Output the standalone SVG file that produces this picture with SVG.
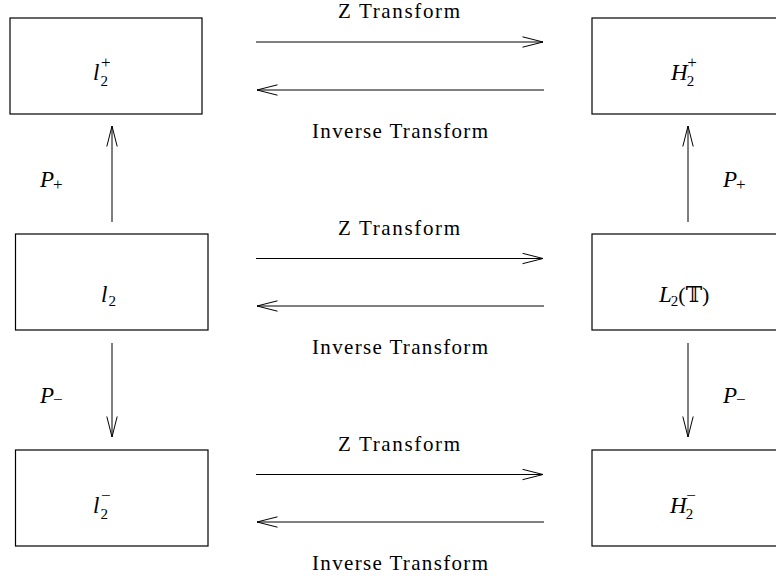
<svg xmlns="http://www.w3.org/2000/svg" width="776" height="581" viewBox="0 0 776 581">
<style>
.box{fill:#fff;stroke:#000;stroke-width:1.2}
.con{stroke:#000;stroke-width:1;fill:none}
text{font-family:"Liberation Serif","DejaVu Serif",serif;fill:#000}
.lbl{font-size:21px}
.m{font-style:italic;font-size:23px}
.s{font-style:normal;font-size:15px}
.o{font-style:normal;font-size:17px}
.r{font-style:normal;font-size:22px}
</style>
<defs>
<marker id="ah" markerWidth="24" markerHeight="14" refX="21" refY="6" orient="auto" markerUnits="userSpaceOnUse">
<path d="M0.5,0.8 L21,6 L0.5,11.2" fill="none" stroke="#000" stroke-width="1"/>
</marker>
</defs>
<rect width="776" height="581" fill="#fff"/>

<g id="l2plus">
<rect class="box" x="10" y="18" width="192" height="96"/>
<text class="m" x="93" y="80">l<tspan class="s" dx="1" dy="6">2</tspan><tspan class="o" dx="-7" dy="-18">+</tspan></text>
</g>
<g id="H2plus">
<rect class="box" x="592" y="18" width="200" height="96"/>
<text class="m" x="671" y="80">H<tspan class="s" dx="-1" dy="6">2</tspan><tspan class="o" dx="-7" dy="-18">+</tspan></text>
</g>
<g id="l2">
<rect class="box" x="15.5" y="234" width="192.5" height="96"/>
<text class="m" x="101" y="302">l<tspan class="s" dx="1" dy="4">2</tspan></text>
</g>
<g id="L2T">
<rect class="box" x="592" y="234" width="200" height="96"/>
<text class="m" x="659" y="302">L<tspan class="s" dx="-1" dy="4">2</tspan><tspan class="r" dy="-4">(</tspan><tspan class="r" font-family="DejaVu Serif, DejaVu Sans, serif" font-size="19">𝕋</tspan><tspan class="r">)</tspan></text>
</g>
<g id="l2minus">
<rect class="box" x="15.5" y="450" width="192.5" height="96"/>
<text class="m" x="93" y="513">l<tspan class="s" dx="1" dy="6">2</tspan><tspan class="o" dx="-7" dy="-18">−</tspan></text>
</g>
<g id="H2minus">
<rect class="box" x="592" y="450" width="200" height="96"/>
<text class="m" x="670" y="513">H<tspan class="s" dx="-1" dy="6">2</tspan><tspan class="o" dx="-7" dy="-18">−</tspan></text>
</g>

<g id="connectors">
<line class="con" x1="256" y1="42" x2="543" y2="42" marker-end="url(#ah)"/>
<line class="con" x1="544" y1="90" x2="257" y2="90" marker-end="url(#ah)"/>
<line class="con" x1="256" y1="258.5" x2="543" y2="258.5" marker-end="url(#ah)"/>
<line class="con" x1="544" y1="306" x2="257" y2="306" marker-end="url(#ah)"/>
<line class="con" x1="256" y1="474.5" x2="543" y2="474.5" marker-end="url(#ah)"/>
<line class="con" x1="544" y1="522" x2="257" y2="522" marker-end="url(#ah)"/>
<line class="con" x1="112" y1="222" x2="112" y2="126" marker-end="url(#ah)"/>
<line class="con" x1="112" y1="343" x2="112" y2="437" marker-end="url(#ah)"/>
<line class="con" x1="688" y1="222" x2="688" y2="126" marker-end="url(#ah)"/>
<line class="con" x1="688" y1="343" x2="688" y2="437" marker-end="url(#ah)"/>
</g>

<g id="labels">
<text class="lbl" x="338" y="18" textLength="122" lengthAdjust="spacing">Z Transform</text>
<text class="lbl" x="312" y="138" textLength="176" lengthAdjust="spacing">Inverse Transform</text>
<text class="lbl" x="338" y="235" textLength="122" lengthAdjust="spacing">Z Transform</text>
<text class="lbl" x="312" y="354" textLength="176" lengthAdjust="spacing">Inverse Transform</text>
<text class="lbl" x="338" y="451" textLength="122" lengthAdjust="spacing">Z Transform</text>
<text class="lbl" x="312" y="570" textLength="176" lengthAdjust="spacing">Inverse Transform</text>
<text class="m" x="40" y="187">P<tspan class="o" dx="-1" dy="3">+</tspan></text>
<text class="m" x="40" y="403">P<tspan class="o" dx="-1" dy="2">−</tspan></text>
<text class="m" x="723" y="187">P<tspan class="o" dx="-1" dy="3">+</tspan></text>
<text class="m" x="723" y="403">P<tspan class="o" dx="-1" dy="2">−</tspan></text>
</g>
</svg>
